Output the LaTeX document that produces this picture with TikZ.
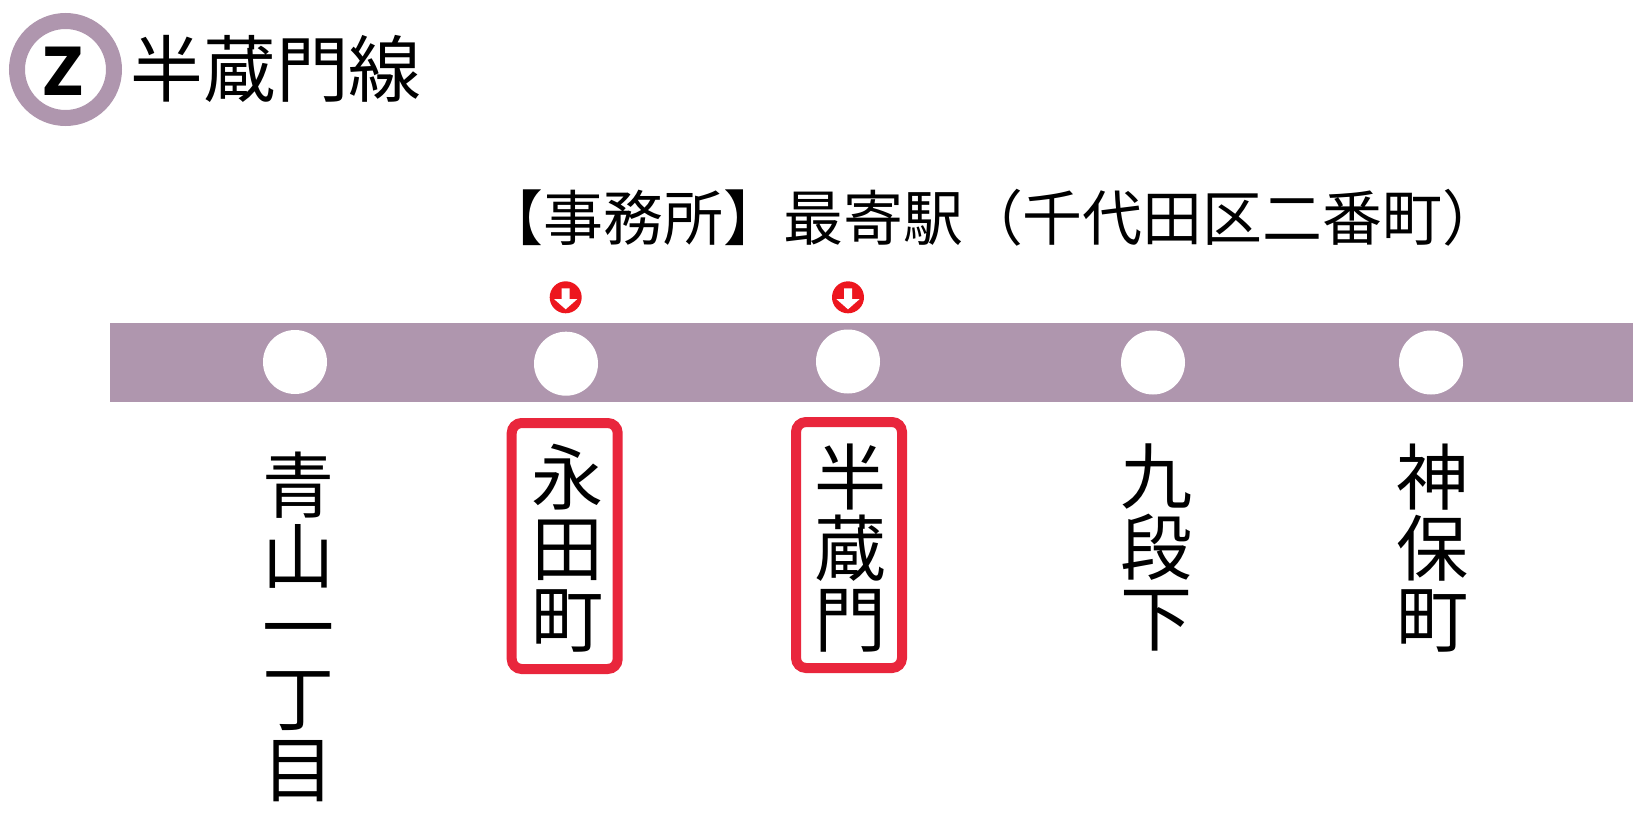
\documentclass[tikz,border=0pt]{standalone}
\usepackage{xcolor}
\usepackage{fontspec}
\setmainfont{Noto Sans CJK JP}
\newfontfamily\latinfont{DejaVu Sans}
\usetikzlibrary{shapes,arrows,positioning,fit,calc}
\definecolor{linepurple}{RGB}{175,150,174}
\definecolor{boxred}{RGB}{233,38,60}
\definecolor{badgered}{RGB}{237,22,30}
\tikzset{
    stationdot/.style={circle, fill=white, minimum size=0.64cm, inner sep=0pt},
    stationname/.style={align=center, anchor=north, inner sep=0pt, font=\fontsize{20.5pt}{20.23pt}\selectfont},
    officebox/.style={rectangle, draw=boxred, line width=0.1cm, rounded corners=0.1cm, fill=none, minimum width=1.06cm, minimum height=2.46cm},
    exitbadge/.style={circle, fill=badgered, minimum size=0.32cm, inner sep=0pt}
}
\begin{document}
\begin{tikzpicture}
    \useasboundingbox (0,0) rectangle (16.47,-8.37);

    % line symbol and title
    \node (symbol) [circle, draw=linepurple, line width=0.16cm, minimum size=0.97cm, inner sep=0pt] at (0.655,-0.695) {};
    \node (letter) [inner sep=0pt, font=\latinfont\bfseries\fontsize{17.2pt}{18pt}\selectfont] at (0.635,-0.71) {\scalebox{0.95}[1.1]{Z}};
    \node (title) [anchor=west, inner sep=0pt, font=\fontsize{20.7pt}{24pt}\selectfont] at (1.30,-0.69) {半蔵門線};

    \node (note) [inner sep=0pt, font=\fontsize{17.05pt}{20pt}\selectfont] at (9.93,-2.175) {【事務所】最寄駅（千代田区二番町）};

    % line band
    \node (band) [rectangle, fill=linepurple, minimum width=15.23cm, minimum height=0.79cm, inner sep=0pt] at (8.71,-3.625) {};

    \node (aoyama) [stationdot] at (2.95,-3.62) {};
    \node (nagatacho) [stationdot] at (5.66,-3.637) {};
    \node (hanzomon) [stationdot] at (8.48,-3.615) {};
    \node (kudan) [stationdot] at (11.53,-3.625) {};
    \node (jimbocho) [stationdot] at (14.31,-3.625) {};

    % exit marks
    \node (exita) [exitbadge] at (5.657,-2.973) {};
    \node (exitb) [exitbadge] at (8.48,-2.973) {};
    \foreach \badge in {exita,exitb}
        \fill [white, shift={(\badge)}] (-0.04,0.09) -- (0.04,0.09) -- (0.04,-0.017) -- (0.117,-0.017) -- (0,-0.12) -- (-0.117,-0.017) -- (-0.04,-0.017) -- cycle;

    % station names
    \node (name1) [stationname] at (2.99,-4.51) {青\\山\\一\\丁\\目};
    \node (name2) [stationname] at (5.675,-4.43) {永\\田\\町};
    \node (name3) [stationname] at (8.505,-4.43) {半\\蔵\\門};
    \node (name4) [stationname] at (11.57,-4.43) {九\\段\\下};
    \node (name5) [stationname] at (14.33,-4.43) {神\\保\\町};

    \node (boxa) [officebox] at (5.647,-5.46) {};
    \node (boxb) [officebox] at (8.49,-5.45) {};
\end{tikzpicture}
\end{document}
